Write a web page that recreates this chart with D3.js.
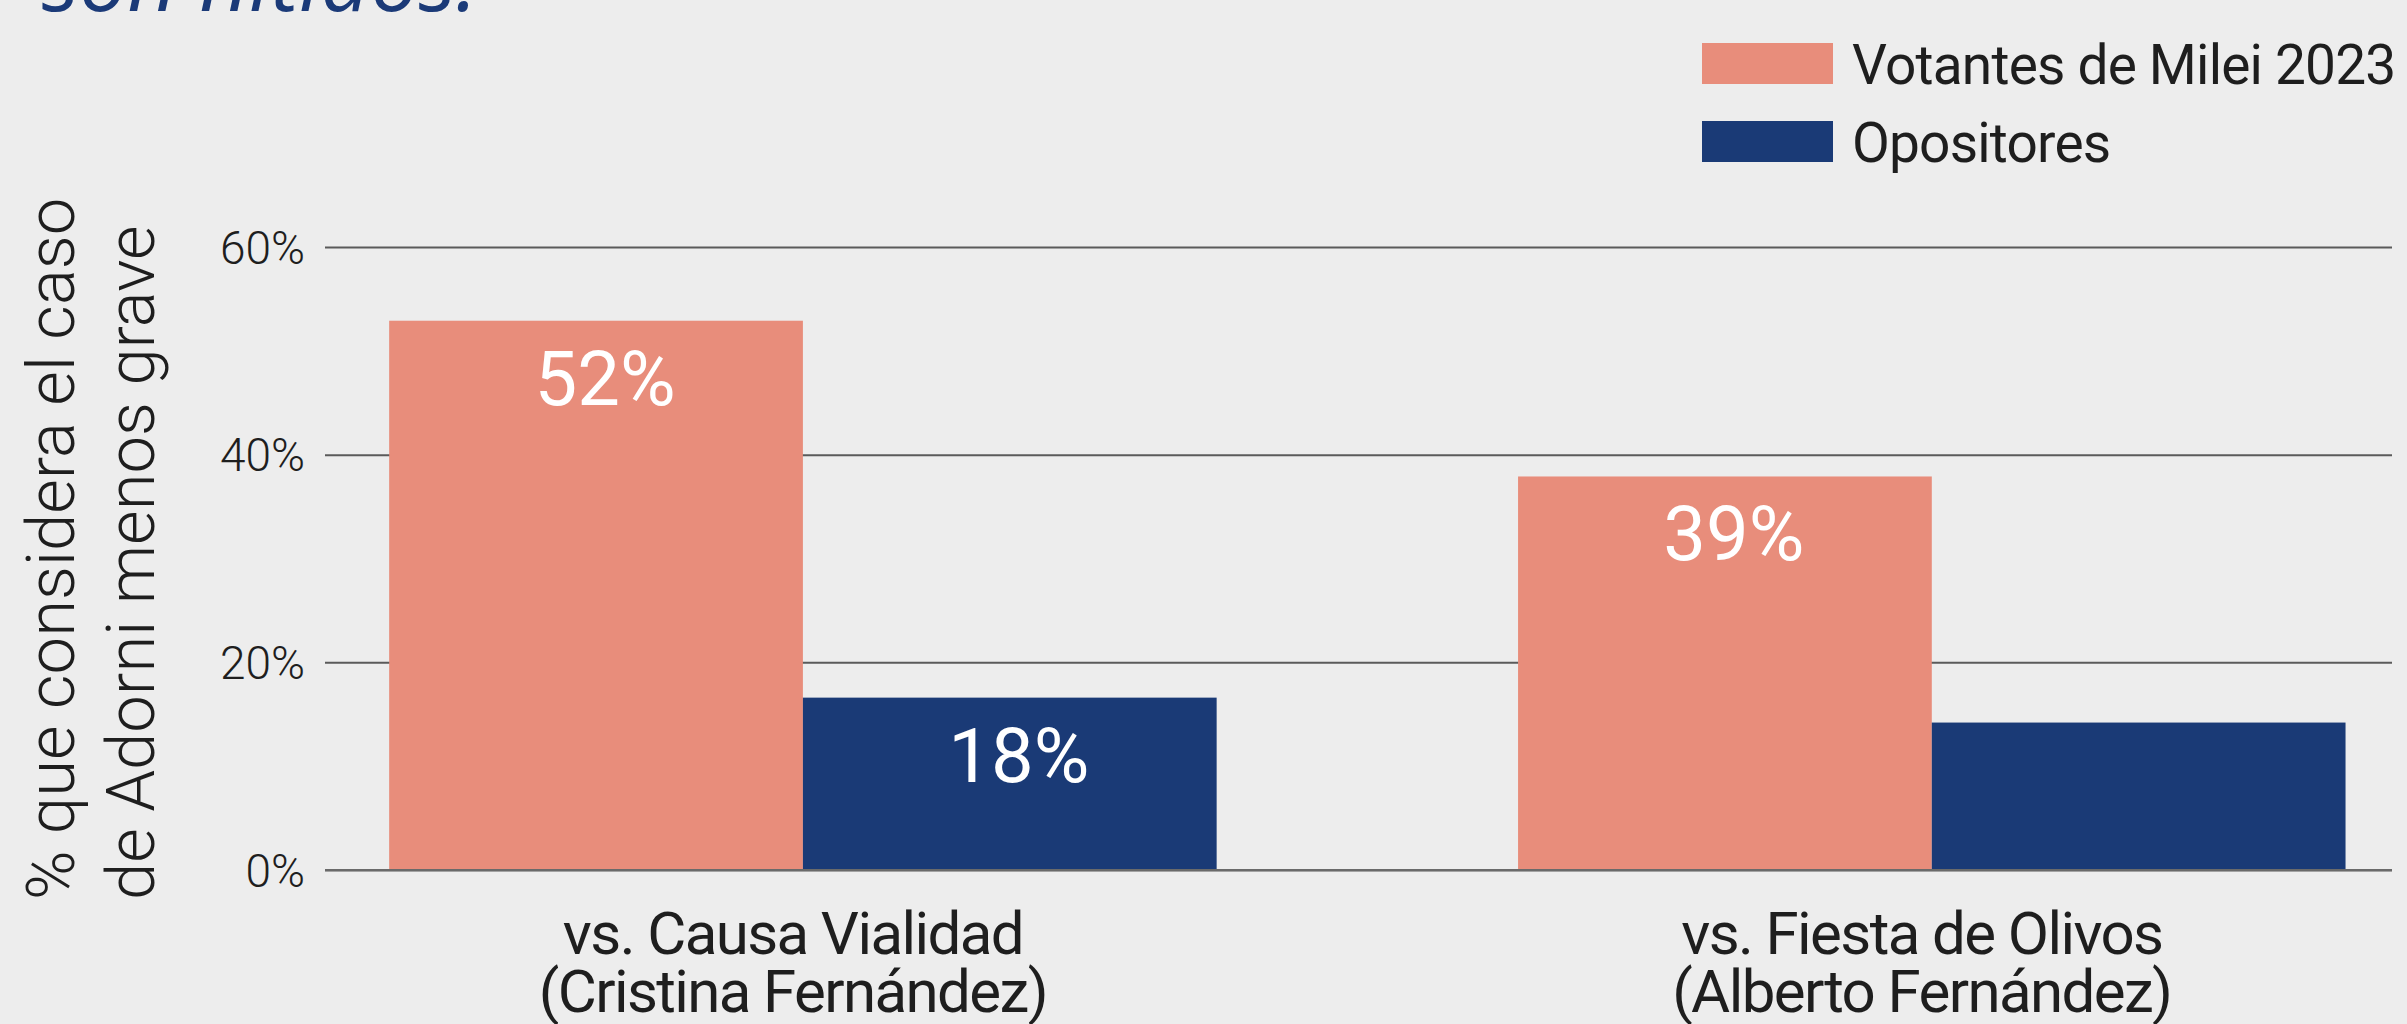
<!DOCTYPE html>
<html>
<head>
<meta charset="utf-8">
<script src="https://cdn.jsdelivr.net/npm/d3@7"></script>
<style>
  body { margin: 0; background: #ededed; }
  svg { display: block; }
</style>
</head>
<body>
<svg id="chart"></svg>
<script>
// data
const categoryLines = [
  ["vs. Causa Vialidad", "(Cristina Fernández)"],
  ["vs. Fiesta de Olivos", "(Alberto Fernández)"]
];
const seriesNames = ["Votantes de Milei 2023", "Opositores"];
const mileiValues = [52.9, 37.9];
const opositoresValues = [16.6, 14.2];
const mileiLabels = ["52%", "39%"];
const opositoresLabels = ["18%", ""];
const yTicks = [0, 20, 40, 60];
const yTitle = ["% que considera el caso", "de Adorni menos grave"];
const headline = "son nítidos.";

const colors = ["#e88d7b", "#1a3a76"];

const W = 2407, H = 1024;
const plotLeft = 325, plotRight = 2392, plotTop = 247, plotBottom = 870;

const svg = d3.select("#chart").attr("width", W).attr("height", H);
svg.append("rect").attr("width", W).attr("height", H).attr("fill", "#ededed");

// cut off headline at the very top
svg.append("text")
  .attr("x", 42).attr("y", 11)
  .attr("font-family", "Open Sans").attr("font-style", "italic")
  .attr("font-size", 86).attr("fill", "#1b3a78")
  .text(headline);

const y = d3.scaleLinear().domain([0, 60]).range([plotBottom, plotTop]);

const x0 = d3.scaleBand()
  .domain(d3.range(categoryLines.length))
  .range([plotLeft, plotRight])
  .paddingInner(0.267)
  .paddingOuter(0.049)
  .align(0.58);

const x1 = d3.scaleBand()
  .domain(d3.range(seriesNames.length))
  .range([0, x0.bandwidth()])
  .padding(0);

// gridlines + tick labels
const yAxis = svg.append("g")
  .attr("transform", "translate(" + plotLeft + ",0)")
  .call(d3.axisLeft(y).tickValues(yTicks).tickSize(-(plotRight - plotLeft)).tickPadding(20)
    .tickFormat(d => d + "%"));
yAxis.select(".domain").remove();
yAxis.selectAll(".tick line").attr("stroke", "#5a5a5a").attr("stroke-width", 2);
yAxis.selectAll(".tick text")
  .attr("font-family", "Roboto").attr("font-weight", 300)
  .attr("font-size", 46).attr("fill", "#1e1e1e").attr("dy", "0.35em");

// bars
const rows = categoryLines.map((c, i) => ({
  i: i,
  values: [mileiValues[i], opositoresValues[i]],
  labels: [mileiLabels[i], opositoresLabels[i]]
}));

const groups = svg.selectAll(".group")
  .data(rows)
  .enter()
  .append("g")
  .attr("class", "group")
  .attr("transform", d => "translate(" + x0(d.i) + ",0)");

groups.selectAll("rect")
  .data(d => d.values.map((v, s) => ({ s: s, v: v, label: d.labels[s] })))
  .enter()
  .append("rect")
  .attr("x", d => x1(d.s))
  .attr("width", x1.bandwidth())
  .attr("y", d => y(d.v))
  .attr("height", d => y(0) - y(d.v))
  .attr("fill", d => colors[d.s]);

groups.selectAll(".val")
  .data(d => d.values.map((v, s) => ({ s: s, v: v, label: d.labels[s] })))
  .enter()
  .append("text")
  .attr("class", "val")
  .attr("x", d => x1(d.s) + x1.bandwidth() / 2 + 9)
  .attr("y", d => y(d.v) + 84)
  .attr("text-anchor", "middle")
  .attr("font-family", "Roboto").attr("font-size", 76)
  .attr("fill", "#ffffff")
  .text(d => d.label);

// zero line on top
svg.append("line")
  .attr("x1", plotLeft).attr("x2", plotRight)
  .attr("y1", y(0)).attr("y2", y(0))
  .attr("stroke", "#6a6a6a").attr("stroke-width", 2);

// category labels
categoryLines.forEach((lines, i) => {
  const t = svg.append("text")
    .attr("text-anchor", "middle")
    .attr("font-family", "Roboto").attr("font-size", 60)
    .attr("letter-spacing", -1.6)
    .attr("fill", "#1e1e1e");
  lines.forEach((l, k) => {
    t.append("tspan")
      .attr("x", x0(i) + x0.bandwidth() / 2 - 10)
      .attr("y", 954 + k * 58)
      .text(l);
  });
});

// y title, two rotated lines
yTitle.forEach((l, k) => {
  svg.append("text")
    .attr("transform", "translate(" + (74 + k * 80) + ",900) rotate(-90)")
    .attr("font-family", "Roboto").attr("font-weight", 300)
    .attr("font-size", 67).attr("fill", "#1e1e1e")
    .text(l);
});

// legend
const legend = svg.selectAll(".legend")
  .data(seriesNames)
  .enter()
  .append("g")
  .attr("class", "legend")
  .attr("transform", (d, i) => "translate(1702," + (43 + i * 78) + ")");

legend.append("rect")
  .attr("width", 131).attr("height", 41)
  .attr("fill", (d, i) => colors[i]);

legend.append("text")
  .attr("x", 150).attr("y", 41)
  .attr("font-family", "Roboto").attr("font-size", 55)
  .attr("letter-spacing", -0.8)
  .attr("fill", "#1e1e1e")
  .text(d => d);
</script>
</body>
</html>
